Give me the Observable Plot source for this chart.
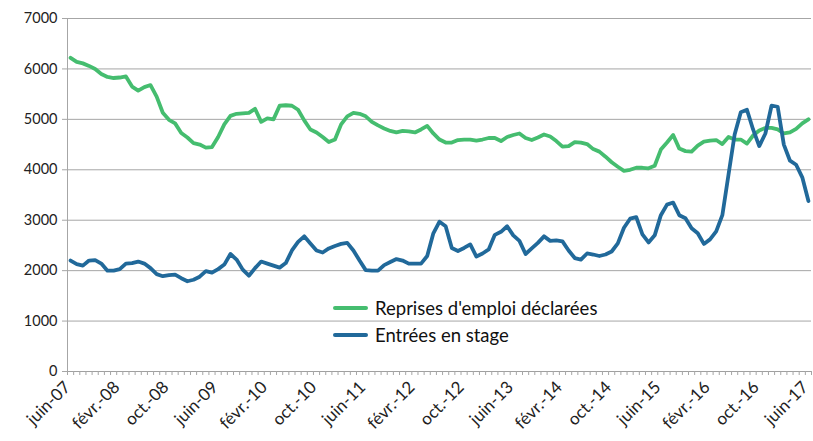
<!DOCTYPE html>
<html>
<head>
<meta charset="utf-8">
<script src="https://cdn.jsdelivr.net/npm/d3@7"></script>
<script src="https://cdn.jsdelivr.net/npm/@observablehq/plot@0.6"></script>
<style>
  html, body { margin: 0; padding: 0; background: #fff; }
  #wrap { position: relative; width: 813px; height: 441px; font-family: Lato, "Open Sans", sans-serif; }
  .leg { position: absolute; display: flex; align-items: center; font-size: 18.5px; color: #111; white-space: nowrap; }
  .sw { width: 35px; height: 4px; margin-right: 7px; border-radius: 2px; }
</style>
</head>
<body>
<div id="wrap">
  <div class="leg" style="left:333px; top:297px;"><div class="sw" style="background:#45bd6f"></div><span>Reprises d'emploi déclarées</span></div>
  <div class="leg" style="left:333px; top:324px;"><div class="sw" style="background:#21699a"></div><span>Entrées en stage</span></div>
</div>
<script>
// Tick labels every 8 months (June 2007 .. June 2017, monthly)
const tickLabels = ["juin-07","févr.-08","oct.-08","juin-09","févr.-10","oct.-10","juin-11","févr.-12","oct.-12","juin-13","févr.-14","oct.-14","juin-15","févr.-16","oct.-16","juin-17"];

const seriesNames = ["Reprises d'emploi déclarées", "Entrées en stage"];

const reprises = [
  6220,6140,6110,6060,6000,5900,5840,5820,5830,5850,
  5650,5570,5640,5680,5450,5130,4990,4920,4730,4640,
  4530,4500,4440,4450,4650,4900,5070,5110,5120,5130,
  5210,4950,5020,5000,5270,5280,5270,5190,4980,4800,
  4740,4650,4550,4600,4900,5060,5130,5110,5060,4950,
  4880,4820,4770,4740,4770,4760,4740,4800,4870,4720,
  4600,4540,4540,4590,4600,4600,4580,4600,4630,4630,
  4570,4650,4690,4720,4630,4590,4640,4700,4660,4570,
  4460,4470,4550,4540,4510,4410,4360,4260,4150,4060,
  3980,4000,4040,4040,4030,4080,4400,4540,4690,4420,
  4370,4360,4480,4560,4580,4590,4510,4650,4600,4600,
  4520,4680,4780,4830,4830,4800,4720,4740,4810,4920,
  5000
];

const entrees = [
  2200,2130,2100,2200,2210,2140,2000,2000,2030,2140,
  2150,2180,2140,2050,1930,1890,1910,1920,1850,1790,
  1820,1880,1990,1960,2030,2120,2330,2220,2020,1900,
  2050,2180,2140,2100,2060,2150,2400,2570,2680,2540,
  2400,2360,2440,2490,2530,2550,2400,2200,2010,2000,
  2000,2110,2170,2230,2200,2140,2140,2140,2290,2740,
  2970,2880,2450,2390,2450,2520,2280,2340,2420,2710,
  2770,2880,2700,2590,2330,2440,2550,2680,2590,2600,
  2580,2400,2250,2220,2340,2320,2290,2320,2380,2540,
  2850,3030,3060,2720,2560,2700,3100,3310,3350,3100,
  3040,2840,2740,2530,2620,2780,3100,3900,4700,5140,
  5190,4800,4470,4720,5270,5250,4500,4180,4100,3850,
  3380
];

const yTicks = [0,1000,2000,3000,4000,5000,6000,7000];

const data = [
  ...reprises.map((v, i) => ({i, v, s: seriesNames[0]})),
  ...entrees.map((v, i) => ({i, v, s: seriesNames[1]}))
];
const n = reprises.length;
const boundaries = d3.range(n + 1).map(k => k - 0.5);
const labelIdx = tickLabels.map((_, k) => k * 8);

const chart = Plot.plot({
  width: 813,
  height: 441,
  marginTop: 18,
  marginBottom: 70,
  marginLeft: 67,
  marginRight: 2,
  style: {fontFamily: "Lato, 'Open Sans', sans-serif", fontSize: "13px", color: "#222", background: "transparent", overflow: "visible"},
  x: {domain: [-0.5, n - 0.5]},
  y: {domain: [0, 7000]},
  color: {domain: seriesNames, range: ["#45bd6f", "#21699a"]},
  marks: [
    Plot.gridY(yTicks, {stroke: "#a6a6a6", strokeOpacity: 1, strokeWidth: 1}),
    Plot.ruleX([-0.5], {stroke: "#a6a6a6"}),
    Plot.ruleY([0], {stroke: "#a0a0a0"}),
    Plot.axisY({ticks: yTicks, tickSize: 5, tickPadding: 5, label: null, fontSize: 14.5, stroke: "#a6a6a6", tickFormat: d3.format("d")}),
    Plot.axisX({ticks: boundaries, tickSize: 4, tickFormat: () => "", label: null, stroke: "#a6a6a6"}),
    Plot.axisX({ticks: labelIdx, tickSize: 0, tickPadding: 13, dx: -3, tickRotate: -45, label: null, fontSize: 17, tickFormat: d => tickLabels[d / 8]}),
    Plot.line(data, {x: "i", y: "v", z: "s", stroke: "s", strokeWidth: 3.8, strokeLinejoin: "round", strokeLinecap: "round"})
  ]
});
const wrap = document.getElementById("wrap");
chart.style.position = "absolute";
chart.style.left = "0";
chart.style.top = "0";
wrap.insertBefore(chart, wrap.firstChild);
</script>
</body>
</html>
